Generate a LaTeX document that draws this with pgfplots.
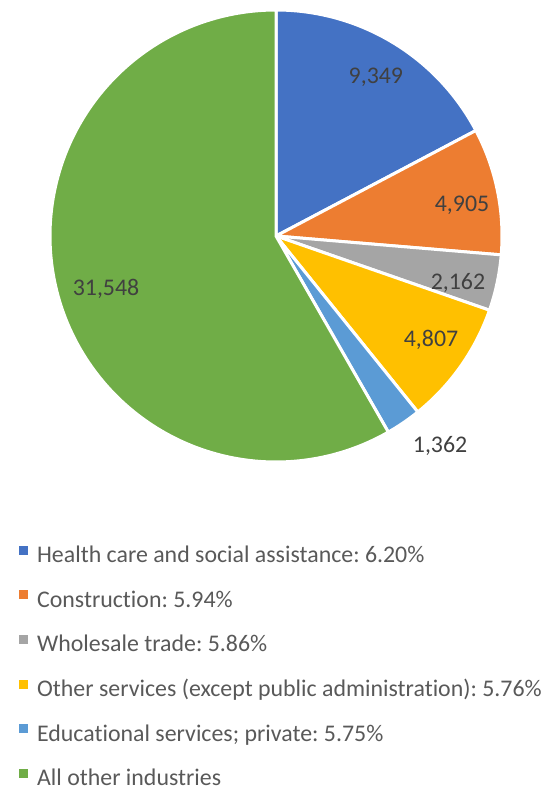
\documentclass[border=0pt]{standalone}
\usepackage{pgfplots}
\pgfplotsset{compat=1.18}
\usepackage{fontspec}
\setmainfont{Carlito}[Ligatures=NoCommon]
\frenchspacing
\definecolor{c1}{HTML}{4472C4}
\definecolor{c2}{HTML}{ED7D31}
\definecolor{c3}{HTML}{A5A5A5}
\definecolor{c4}{HTML}{FFC000}
\definecolor{c5}{HTML}{5B9BD5}
\definecolor{c6}{HTML}{70AD47}
\definecolor{legtext}{HTML}{595959}
\definecolor{labtext}{HTML}{404040}
% values (persons)
\def\vA{9349}\def\vB{4905}\def\vC{2162}\def\vD{4807}\def\vE{1362}\def\vF{31548}
\newcommand{\calcangle}[2]{\begingroup\pgfkeys{/pgf/fpu=true,/pgf/fpu/output format=fixed}%
  \pgfmathparse{90-360*(#2)/(\vA+\vB+\vC+\vD+\vE+\vF)}\xdef#1{\pgfmathresult}\endgroup}
\calcangle\aA{0}
\calcangle\aB{\vA}
\calcangle\aC{\vA+\vB}
\calcangle\aD{\vA+\vB+\vC}
\calcangle\aE{\vA+\vB+\vC+\vD}
\calcangle\aF{\vA+\vB+\vC+\vD+\vE}
\calcangle\aG{\vA+\vB+\vC+\vD+\vE+\vF}
\newcommand{\legsq}[1]{\addlegendimage{legend image code/.code={\fill[#1] (0pt,2.25pt) rectangle (6pt,8.25pt);}}}
\begin{document}
\begin{tikzpicture}
\path[use as bounding box] (-37.5pt,-243.75pt) rectangle (378pt,346.5pt);
\begin{axis}[
  scale only axis, width=339pt, height=339pt,
  xmin=-1, xmax=1, ymin=-1, ymax=1,
  axis lines=none, clip=false,
  legend cell align=left,
  legend style={at={(-0.0686,-0.1847)}, anchor=north west, draw=none, fill=none,
    inner sep=0pt, row sep=17.05pt, column sep=7pt,
    nodes={inner sep=0pt, text height=12pt, text depth=4pt},
    font=\fontsize{17.9}{21}\selectfont\color{legtext}},
]
\addplot[fill=c1, draw=white, line width=2.25pt, line join=round, domain=\aB:\aA, samples=60, forget plot] ({cos(x)},{sin(x)}) -- (0,0) -- cycle;
\addplot[fill=c2, draw=white, line width=2.25pt, line join=round, domain=\aC:\aB, samples=40, forget plot] ({cos(x)},{sin(x)}) -- (0,0) -- cycle;
\addplot[fill=c3, draw=white, line width=2.25pt, line join=round, domain=\aD:\aC, samples=20, forget plot] ({cos(x)},{sin(x)}) -- (0,0) -- cycle;
\addplot[fill=c4, draw=white, line width=2.25pt, line join=round, domain=\aE:\aD, samples=40, forget plot] ({cos(x)},{sin(x)}) -- (0,0) -- cycle;
\addplot[fill=c5, draw=white, line width=2.25pt, line join=round, domain=\aF:\aE, samples=20, forget plot] ({cos(x)},{sin(x)}) -- (0,0) -- cycle;
\addplot[fill=c6, draw=white, line width=2.25pt, line join=round, domain=\aG:\aF, samples=150, forget plot] ({cos(x)},{sin(x)}) -- (0,0) -- cycle;
\begin{scope}[font=\fontsize{17.9}{21}\selectfont, text=labtext]
\node at (0.442,0.704) {9,349};
\node at (0.823,0.137) {4,905};
\node at (0.805,-0.208) {2,162};
\node at (0.686,-0.460) {4,807};
\node at (0.726,-0.929) {1,362};
\node at (-0.752,-0.235) {31,548};
\end{scope}
\legsq{c1}\addlegendentry{Health care and social assistance: 6.20\%}
\legsq{c2}\addlegendentry{Construction: 5.94\%}
\legsq{c3}\addlegendentry{Wholesale trade: 5.86\%}
\legsq{c4}\addlegendentry{Other services (except public administration): 5.76\%}
\legsq{c5}\addlegendentry{Educational services; private: 5.75\%}
\legsq{c6}\addlegendentry{All other industries}
\end{axis}
\end{tikzpicture}
\end{document}
